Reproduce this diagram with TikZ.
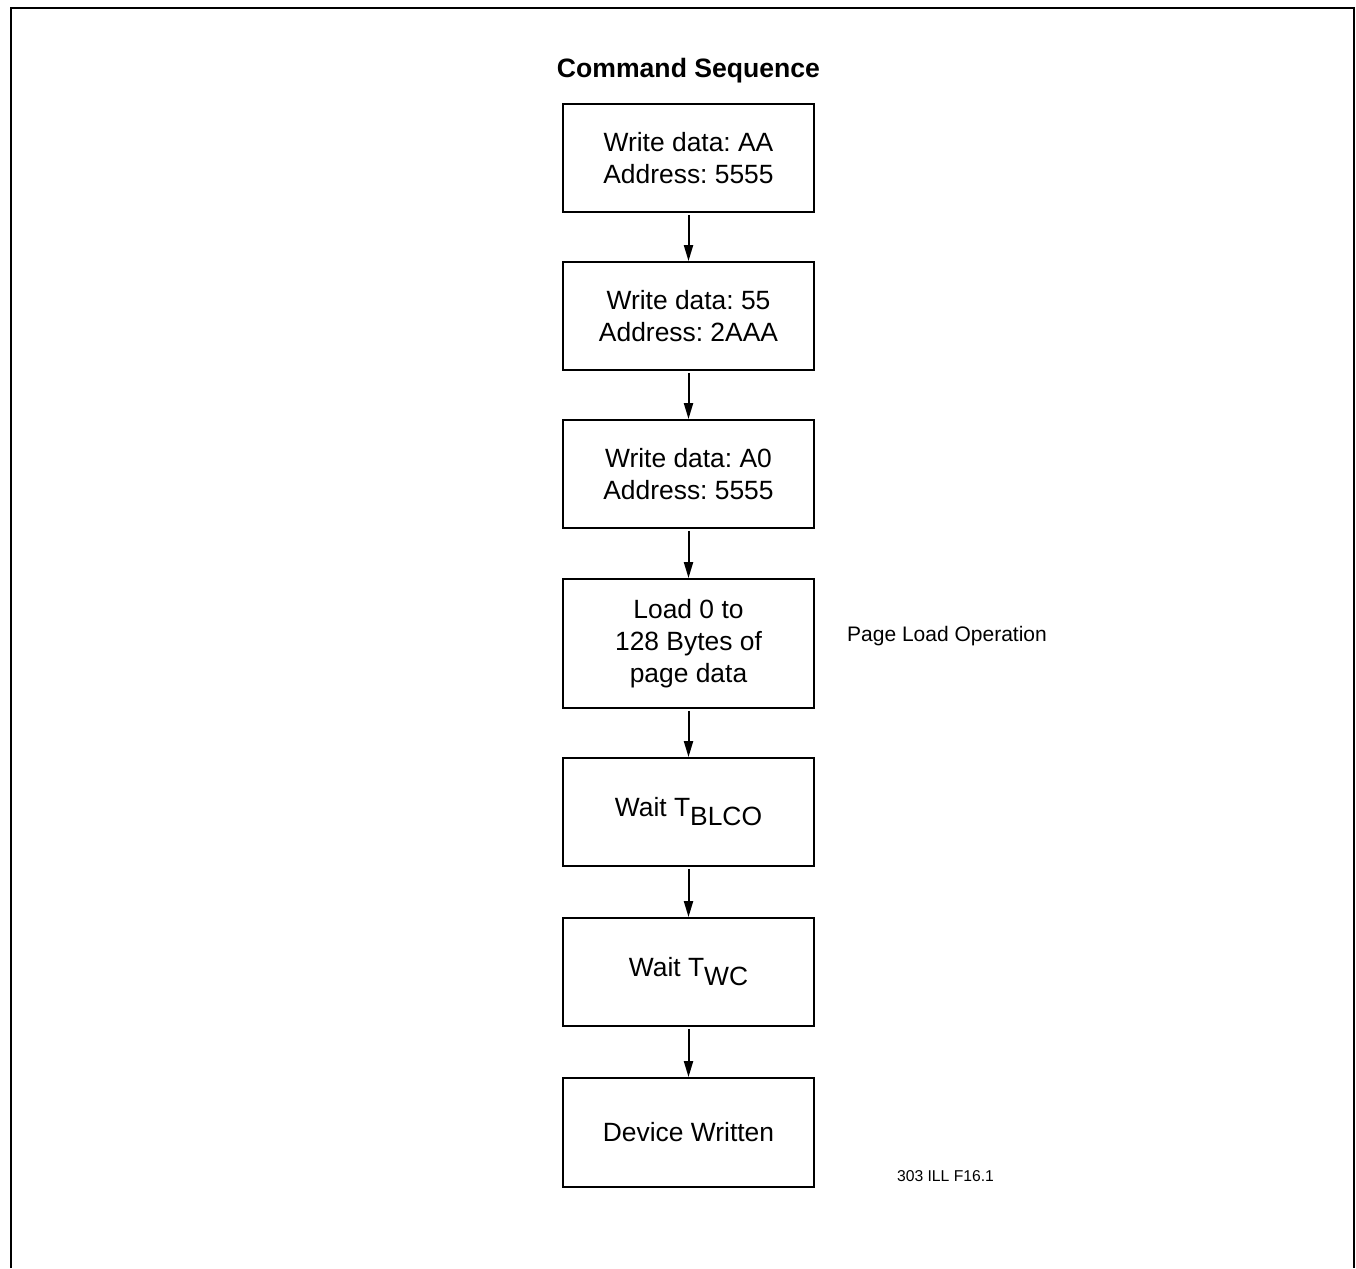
\documentclass[tikz,border=0pt]{standalone}
\usepackage{fontspec}
\setmainfont{Liberation Sans}
\usetikzlibrary{arrows.meta}
\frenchspacing
\begin{document}
\begin{tikzpicture}[x=1pt,y=-1pt,
  stepbox/.style={draw, line width=1.8pt, minimum width=251pt, minimum height=108pt,
    inner sep=0pt, align=center, font=\frenchspacing\fontsize{26.4}{32}\selectfont},
  flow/.style={line width=2pt, shorten <=2pt, -{Triangle[length=16pt,width=9pt]}},
  note/.style={inner sep=0pt, font=\frenchspacing\fontsize{21}{25}\selectfont}]
  \useasboundingbox (0,0) rectangle (1356,1268);
  % outer frame (open at the bottom)
  \draw[line width=1.5pt] (11,1268) -- (11,8) -- (1354,8) -- (1354,1268);

  \node[font=\bfseries\fontsize{26.6}{32}\selectfont, inner sep=0pt] (title) at (688.5,71) {Command Sequence};

  \node[stepbox] (s1) at (688.5,158) {Write data: AA\\Address: 5555};
  \node[stepbox] (s2) at (688.5,316) {Write data: 55\\Address: 2AAA};
  \node[stepbox] (s3) at (688.5,474) {Write data: A0\\Address: 5555};
  \node[stepbox, minimum height=129pt] (s4) at (688.5,643.5) {Load 0 to\\128 Bytes of\\page data};
  \node[stepbox] (s5) at (688.5,812) {Wait T\raisebox{-9pt}{BLCO}};
  \node[stepbox] (s6) at (688.5,972) {Wait T\raisebox{-9pt}{WC}};
  \node[stepbox, minimum height=109pt] (s7) at (688.5,1132.5) {Device Written};

  \draw[flow] (s1) -- (s2);
  \draw[flow] (s2) -- (s3);
  \draw[flow] (s3) -- (s4);
  \draw[flow] (s4) -- (s5);
  \draw[flow] (s5) -- (s6);
  \draw[flow] (s6) -- (s7);

  \node[note, anchor=west] (plo) at (847,636) {Page Load Operation};
  \node[inner sep=0pt, font=\fontsize{15.7}{19}\selectfont] (fig) at (945.5,1176) {303 ILL F16.1};
\end{tikzpicture}
\end{document}
